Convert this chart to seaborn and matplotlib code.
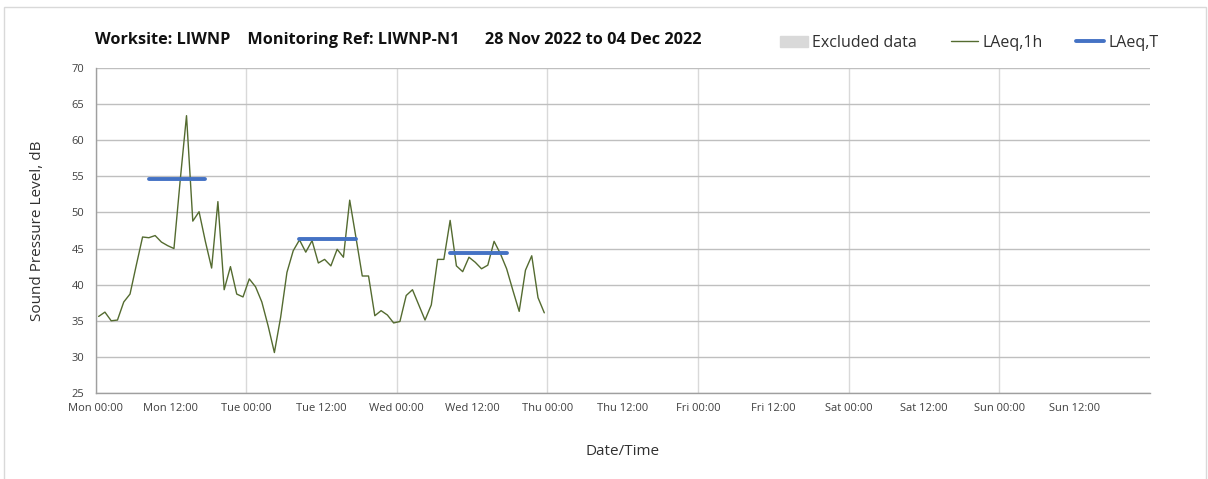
import numpy as np
import pandas as pd
import matplotlib
matplotlib.use("Agg")
import matplotlib.pyplot as plt
import matplotlib.patches as mpatches
import matplotlib.lines as mlines
import seaborn as sns

# Hourly LAeq,1h values (dB), Mon 00:00 onwards, one per hour
laeq_1h = [35.6, 36.2, 35.0, 35.1, 37.6, 38.7, 42.7, 46.6, 46.5, 46.8,
           45.9, 45.4, 45.0, 54.5, 63.4, 48.8, 50.1, 46.0, 42.3, 51.5,
           39.3, 42.5, 38.7, 38.3, 40.8, 39.7, 37.6, 34.3, 30.6, 35.5,
           41.7, 44.7, 46.2, 44.5, 46.1, 43.0, 43.5, 42.6, 44.9, 43.8,
           51.7, 46.5, 41.2, 41.2, 35.7, 36.4, 35.8, 34.7, 34.9, 38.5,
           39.3, 37.2, 35.1, 37.2, 43.5, 43.5, 48.9, 42.6, 41.8, 43.8,
           43.1, 42.2, 42.7, 46.0, 44.3, 42.2, 39.2, 36.3, 42.0, 44.0,
           38.2, 36.1]

# Daytime LAeq,T periods (first and last hour index)
period_start = [8, 32, 56]
period_end = [17, 41, 65]
period_laeq = [54.6, 46.3, 44.4]

day_names = ["Mon", "Tue", "Wed", "Thu", "Fri", "Sat", "Sun"]
tick_labels = [f"{d} {t}" for d in day_names for t in ["00:00", "12:00"]]

title = "Worksite: LIWNP    Monitoring Ref: LIWNP-N1      28 Nov 2022 to 04 Dec 2022"

df_1h = pd.DataFrame({"hour": np.arange(len(laeq_1h)) + 0.5, "LAeq": laeq_1h})
rows = []
for k, (s, e, v) in enumerate(zip(period_start, period_end, period_laeq)):
    rows.append({"period": k, "hour": s + 0.5, "LAeq": v})
    rows.append({"period": k, "hour": e + 0.5, "LAeq": v})
df_T = pd.DataFrame(rows)

sns.set_style("white")
plt.rcParams["font.family"] = ["Open Sans", "DejaVu Sans"]

W, H = 1208, 479
fig = plt.figure(figsize=(W / 100, H / 100), dpi=100)
ax = fig.add_axes([95.5 / W, 1 - 393 / H, (1150 - 95.5) / W, (393 - 68) / H])

green = "#546b30"
blue = "#4472c4"

sns.lineplot(data=df_1h, x="hour", y="LAeq", ax=ax, color=green, lw=1.0)
sns.lineplot(data=df_T, x="hour", y="LAeq", units="period", estimator=None,
             ax=ax, color=blue, lw=2.8)

ax.set_xlim(0, 168)
ax.set_ylim(25, 70)
ax.set_yticks(np.arange(25, 71, 5))
ax.set_xticks(np.arange(0, 169, 24))
ax.set_xticks(np.arange(12, 168, 24), minor=True)
ax.set_xticklabels(tick_labels[0::2] + [""])
ax.set_xticklabels(tick_labels[1::2], minor=True)

ax.grid(axis="y", color="#bfbfbf", lw=1)
ax.grid(axis="x", which="major", color="#d9d9d9", lw=1)
ax.xaxis.get_gridlines()[-1].set_visible(False)
ax.set_axisbelow(True)

for side in ["top", "right"]:
    ax.spines[side].set_visible(False)
for side in ["left", "bottom"]:
    ax.spines[side].set_color("#9f9f9f")
    ax.spines[side].set_linewidth(1)

ax.tick_params(axis="both", which="both", direction="out", length=4, width=1,
               color="#9f9f9f", labelsize=8, labelcolor="#404040", pad=3)
ax.tick_params(axis="y", length=5)

ax.set_xlabel("Date/Time", fontsize=11, color="#303030", labelpad=22)
ax.set_ylabel("Sound Pressure Level, dB", fontsize=11, color="#303030", labelpad=19)

fig.text(95 / W, 1 - 40 / H, title, fontsize=11.7, fontweight="bold",
         color="#111111", va="center", ha="left")

handles = [mpatches.Patch(color="#d9d9d9", label="Excluded data"),
           mlines.Line2D([], [], color=green, lw=1.0, label="LAeq,1h"),
           mlines.Line2D([], [], color=blue, lw=2.8, label="LAeq,T")]
fig.legend(handles=handles, loc="center left", bbox_to_anchor=(766 / W, 1 - 43 / H),
           ncol=3, frameon=False, fontsize=11.5, handlelength=1.7, handletextpad=0.3,
           columnspacing=2.1, labelcolor="#303030")

fig.patches.append(mpatches.Rectangle((4 / W, -0.01), 1 - 6 / W, 1 - 7 / H + 0.01,
                                      transform=fig.transFigure, fill=False,
                                      edgecolor="#d9d9d9", lw=1))

fig.savefig("out.png", dpi=100)
